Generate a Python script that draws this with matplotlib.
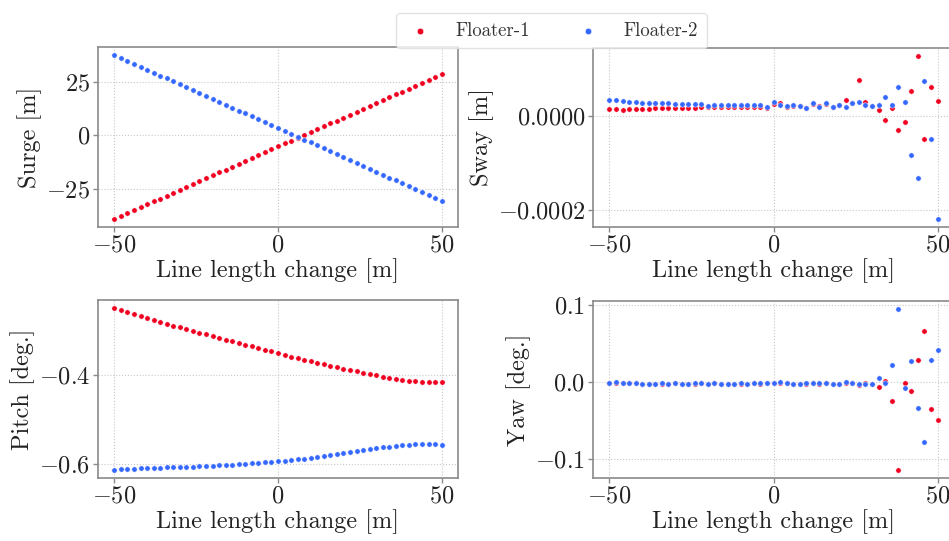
import matplotlib
matplotlib.use("Agg")
import matplotlib.pyplot as plt
from matplotlib.ticker import FuncFormatter, FixedLocator

plt.rcParams.update({
    "font.family": "serif",
    "font.serif": ["cmr10"],
    "mathtext.fontset": "cm",
    "axes.formatter.use_mathtext": True,
    "axes.unicode_minus": True,
})

# Line length change [m]
line_change = list(range(-50, 51, 2))

surge_f1 = [-39.2, -37.8, -36.5, -35.1, -33.8, -32.4, -31.0, -29.7, -28.3, -27.0,
            -25.6, -24.2, -22.9, -21.5, -20.2, -18.8, -17.4, -16.1, -14.7, -13.4,
            -12.0, -10.6, -9.3, -7.9, -6.6, -5.2, -3.8, -2.5, -1.1, 0.2,
            1.6, 3.0, 4.3, 5.7, 7.0, 8.4, 9.8, 11.1, 12.5, 13.8,
            15.2, 16.6, 17.9, 19.3, 20.6, 22.0, 23.4, 24.7, 26.1, 27.4, 28.8]
surge_f2 = [37.7, 36.3, 35.0, 33.6, 32.2, 30.9, 29.5, 28.1, 26.8, 25.4,
            24.0, 22.7, 21.3, 19.9, 18.5, 17.2, 15.8, 14.4, 13.1, 11.7,
            10.3, 9.0, 7.6, 6.2, 4.9, 3.5, 2.1, 0.8, -0.6, -2.0,
            -3.3, -4.7, -6.1, -7.4, -8.8, -10.2, -11.5, -12.9, -14.3, -15.7,
            -17.0, -18.4, -19.8, -21.1, -22.5, -23.9, -25.2, -26.6, -28.0, -29.3, -30.7]

sway_f1 = [1.42e-5, 1.42e-5, 1.35e-5, 1.42e-5, 1.49e-5, 1.49e-5, 1.56e-5, 1.63e-5, 1.63e-5, 1.70e-5,
           1.70e-5, 1.70e-5, 1.77e-5, 1.77e-5, 1.84e-5, 1.84e-5, 1.84e-5, 1.84e-5, 1.84e-5, 1.91e-5,
           1.91e-5, 1.91e-5, 1.91e-5, 1.99e-5, 1.70e-5, 2.62e-5, 2.77e-5, 1.99e-5, 2.20e-5, 2.06e-5,
           1.70e-5, 2.55e-5, 2.06e-5, 2.48e-5, 1.99e-5, 2.34e-5, 3.33e-5, 2.69e-5, 7.59e-5, 2.91e-5,
           2.06e-5, 1.35e-5, -0.78e-5, 1.63e-5, -2.91e-5, -1.35e-5, 5.39e-5, 12.76e-5, -4.96e-5, 6.10e-5,
           3.12e-5]
sway_f2 = [3.40e-5, 3.47e-5, 3.12e-5, 2.98e-5, 2.98e-5, 2.84e-5, 2.84e-5, 2.77e-5, 2.77e-5, 2.69e-5,
           2.62e-5, 2.55e-5, 2.55e-5, 2.48e-5, 2.48e-5, 2.20e-5, 2.41e-5, 2.41e-5, 2.41e-5, 2.34e-5,
           2.34e-5, 2.34e-5, 2.34e-5, 2.34e-5, 1.91e-5, 2.91e-5, 2.41e-5, 2.20e-5, 2.41e-5, 2.13e-5,
           1.77e-5, 2.69e-5, 1.99e-5, 2.69e-5, 1.91e-5, 2.41e-5, 1.91e-5, 2.69e-5, 3.05e-5, 2.27e-5,
           2.13e-5, 2.34e-5, 3.97e-5, 2.41e-5, 6.17e-5, 3.05e-5, -8.22e-5, -13.26e-5, 7.52e-5, -4.89e-5,
           -21.91e-5]

pitch_f1 = [-0.2491, -0.2543, -0.2587, -0.2632, -0.2677, -0.2721, -0.2758, -0.2803, -0.2840, -0.2885,
            -0.2922, -0.2967, -0.3004, -0.3041, -0.3078, -0.3123, -0.3160, -0.3197, -0.3234, -0.3271,
            -0.3309, -0.3346, -0.3383, -0.3428, -0.3465, -0.3509, -0.3546, -0.3584, -0.3621, -0.3658,
            -0.3688, -0.3725, -0.3755, -0.3784, -0.3822, -0.3851, -0.3881, -0.3911, -0.3941, -0.3970,
            -0.4000, -0.4030, -0.4052, -0.4074, -0.4097, -0.4119, -0.4134, -0.4141, -0.4149, -0.4149,
            -0.4149]
pitch_f2 = [-0.6126, -0.6112, -0.6104, -0.6097, -0.6089, -0.6082, -0.6074, -0.6074, -0.6067, -0.6059,
            -0.6059, -0.6052, -0.6052, -0.6045, -0.6037, -0.6030, -0.6022, -0.6015, -0.6007, -0.6000,
            -0.5985, -0.5978, -0.5963, -0.5955, -0.5948, -0.5933, -0.5918, -0.5903, -0.5888, -0.5874,
            -0.5859, -0.5836, -0.5822, -0.5799, -0.5777, -0.5755, -0.5732, -0.5710, -0.5688, -0.5665,
            -0.5643, -0.5621, -0.5606, -0.5584, -0.5569, -0.5561, -0.5554, -0.5546, -0.5546, -0.5554,
            -0.5561]

yaw_f1 = [-0.0009, -0.0004, -0.0009, -0.0013, -0.0009, -0.0021, -0.0021, -0.0017, -0.0017, -0.0021,
          -0.0013, -0.0017, -0.0021, -0.0017, -0.0013, -0.0017, -0.0013, -0.0021, -0.0017, -0.0021,
          -0.0017, -0.0017, -0.0013, -0.0017, -0.0013, -0.0009, -0.0004, -0.0013, -0.0021, -0.0021,
          -0.0017, -0.0013, -0.0017, -0.0013, -0.0026, -0.0021, -0.0009, -0.0013, -0.0034, -0.0004,
          -0.0017, -0.0060, 0.0021, -0.0248, -0.1139, -0.0004, -0.0111, 0.0287, 0.0664, -0.0351,
          -0.0488]
yaw_f2 = [-0.0004, 0.0009, -0.0004, -0.0009, -0.0013, -0.0021, -0.0017, -0.0017, -0.0013, -0.0021,
          -0.0009, -0.0017, -0.0017, -0.0013, -0.0009, -0.0017, -0.0009, -0.0017, -0.0017, -0.0017,
          -0.0013, -0.0017, -0.0013, -0.0013, -0.0009, -0.0004, 0.0000, -0.0009, -0.0021, -0.0017,
          -0.0013, -0.0009, -0.0013, -0.0009, -0.0026, -0.0021, 0.0009, -0.0009, -0.0021, -0.0026,
          -0.0021, 0.0056, -0.0004, 0.0218, 0.0951, -0.0073, 0.0274, -0.0338, -0.0779, 0.0291,
          0.0424]

series_names = ["Floater-1", "Floater-2"]
series_colors = ["#f00020", "#3468ff"]

panels = [
    ("Surge [m]", surge_f1, surge_f2, [-25, 0, 25], "{:.0f}"),
    ("Sway [m]", sway_f1, sway_f2, [-0.0002, 0.0], "{:.4f}"),
    ("Pitch [deg.]", pitch_f1, pitch_f2, [-0.6, -0.4], "{:.1f}"),
    ("Yaw [deg.]", yaw_f1, yaw_f2, [-0.1, 0.0, 0.1], "{:.1f}"),
]

W, H = 949, 541
fig = plt.figure(figsize=(W / 100, H / 100), dpi=100)

# axes boxes in pixels: left, top, right, bottom
boxes = [(98, 47, 458, 227), (593, 48, 954, 227),
         (98, 300, 458, 478), (593, 301, 954, 478)]

spine_color = "#8a8a8a"
fs = 17.5

handles = None
for (title, f1, f2, yticks, fmt), (l, t, r, b) in zip(panels, boxes):
    ax = fig.add_axes([l / W, 1 - b / H, (r - l) / W, (b - t) / H])
    h1 = ax.scatter(line_change, f1, s=15, color=series_colors[0],
                    edgecolors="white", linewidths=0.35, zorder=3,
                    label=series_names[0])
    h2 = ax.scatter(line_change, f2, s=15, color=series_colors[1],
                    edgecolors="white", linewidths=0.35, zorder=3,
                    label=series_names[1])
    handles = [h1, h2]
    ax.set_xticks([-50, 0, 50])
    ax.yaxis.set_major_locator(FixedLocator(yticks))
    ax.yaxis.set_major_formatter(
        FuncFormatter(lambda v, p, f=fmt: "$" + f.format(0.0 if abs(v) < 1e-12 else v) + "$"))
    ax.xaxis.set_major_formatter(FuncFormatter(lambda v, p: "$%d$" % round(v)))
    ax.grid(True, linestyle=":", color="#c8c8c8", linewidth=0.8)
    ax.set_axisbelow(True)
    for sp in ax.spines.values():
        sp.set_color(spine_color)
        sp.set_linewidth(1.2)
    ax.tick_params(axis="both", colors=spine_color, labelcolor="#222222",
                   labelsize=fs, length=3.5, width=1.0, pad=2)
    ax.set_xlabel("Line length change [m]", fontsize=fs, color="#222222", labelpad=1)
    ax.set_ylabel(title, fontsize=fs, color="#222222", labelpad=3)

leg = fig.legend(handles, series_names, loc="upper center",
                 bbox_to_anchor=(551.5 / W, 1 - 4 / H), ncol=2,
                 fontsize=13.5, frameon=True, fancybox=True,
                 markerscale=1.2, columnspacing=2.3, handletextpad=1.1,
                 borderpad=0.45, handlelength=1.6)
leg.get_frame().set_edgecolor("#dddddd")
leg.get_frame().set_linewidth(1.0)
for txt in leg.get_texts():
    txt.set_color("#333333")

fig.savefig("out.png", dpi=100)
